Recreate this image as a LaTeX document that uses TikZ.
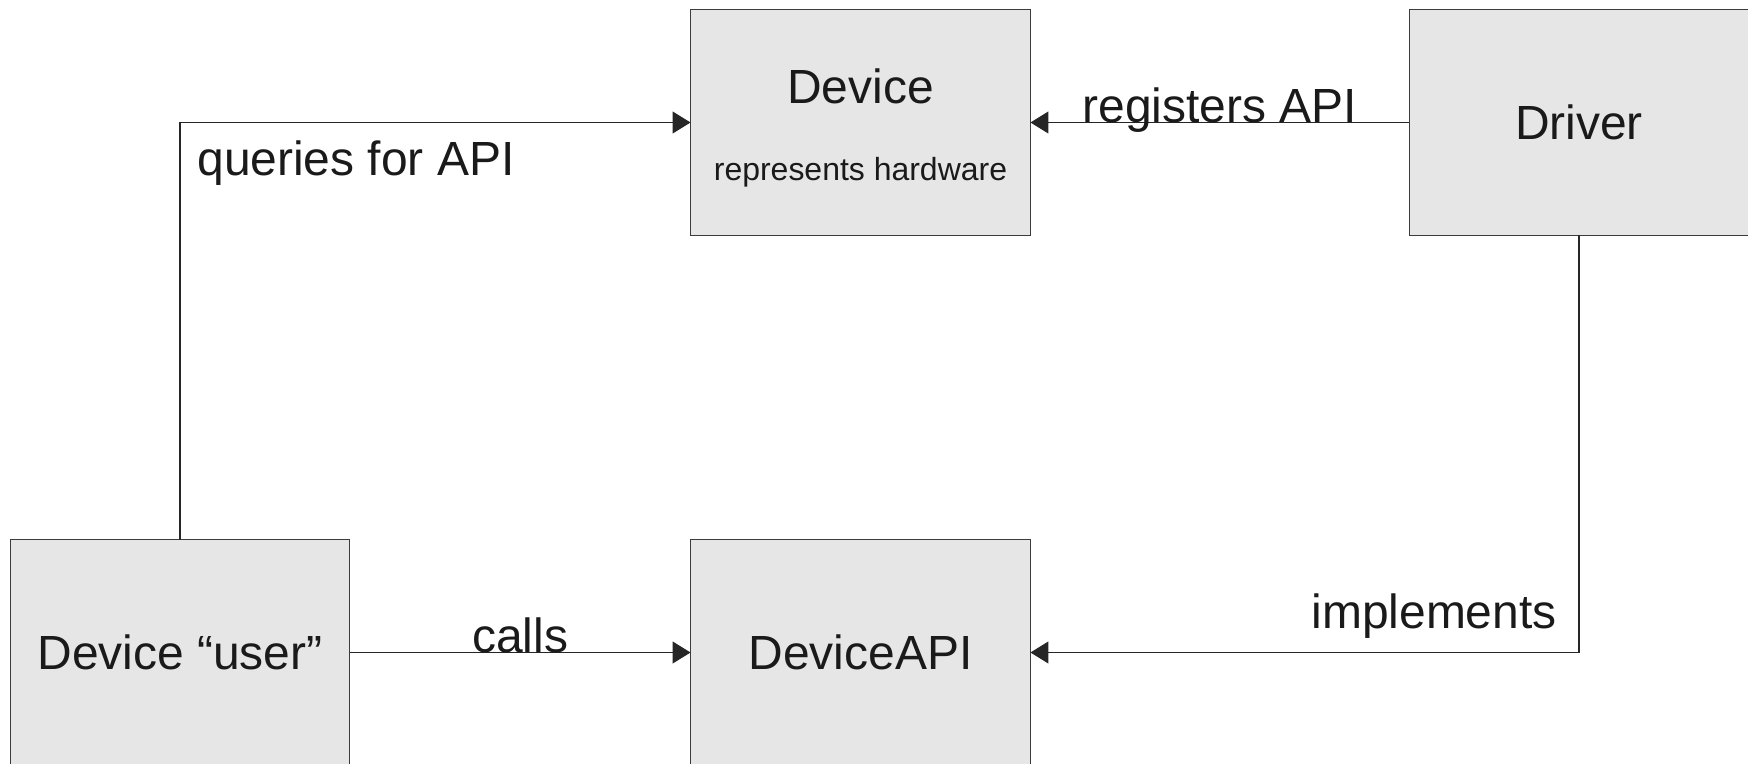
\documentclass[tikz,border=0pt]{standalone}
\usepackage{fontspec}
\setmainfont{Liberation Sans}
\usepackage{tikz}
\usetikzlibrary{arrows.meta,positioning}
\definecolor{boxFill}{HTML}{E6E6E6}
\definecolor{boxLine}{HTML}{3C3C3C}
\definecolor{txtGray}{HTML}{1A1A1A}

\begin{document}
\begin{tikzpicture}[x=0.02cm,y=-0.02cm,>={Triangle[length=0.36cm,width=0.44cm]},
  box/.style={draw=boxLine,fill=boxFill,line width=0.6pt,minimum width=6.8cm,
    minimum height=4.52cm,inner sep=0pt,outer sep=0pt},
  big/.style={text=txtGray,font=\fontsize{27.3}{33}\selectfont,inner sep=0pt},
  small/.style={text=txtGray,font=\fontsize{18.2}{22}\selectfont,inner sep=0pt},
  conn/.style={->,draw=black!85,line width=0.6pt}]
\useasboundingbox (0,0) rectangle (1748,764);
% boxes
\node[box] (dev) at (860.5,122.5) {};
\node[box] (drv) at (1579,122.5) {};
\node[box,big] (usr) at (180,652.5) {Device “user”};
\node[box,big] (api) at (860.5,652.5) {DeviceAPI};
\node[big] (drvname) at (drv.center) {Driver};
\node[big,anchor=base] (devname) at (860.5,103) {Device};
\node[small,anchor=base] (devnote) at (860.5,180) {represents hardware};
% connectors
\draw[conn] (usr.north) |- (dev.west);
\node[big,anchor=base west] (qlabel) at (197,175) {queries for API};
\draw[conn] (drv.west) -- node[big,midway,anchor=base] (rlabel) {registers API} (dev.east);
\draw[conn] (usr.east) -- node[big,midway,anchor=base] (clabel) {calls} (api.west);
\draw[conn] (drv.south) |- (api.east);
\node[big,anchor=base east] (ilabel) at (1557,628) {implements};
\end{tikzpicture}
\end{document}
